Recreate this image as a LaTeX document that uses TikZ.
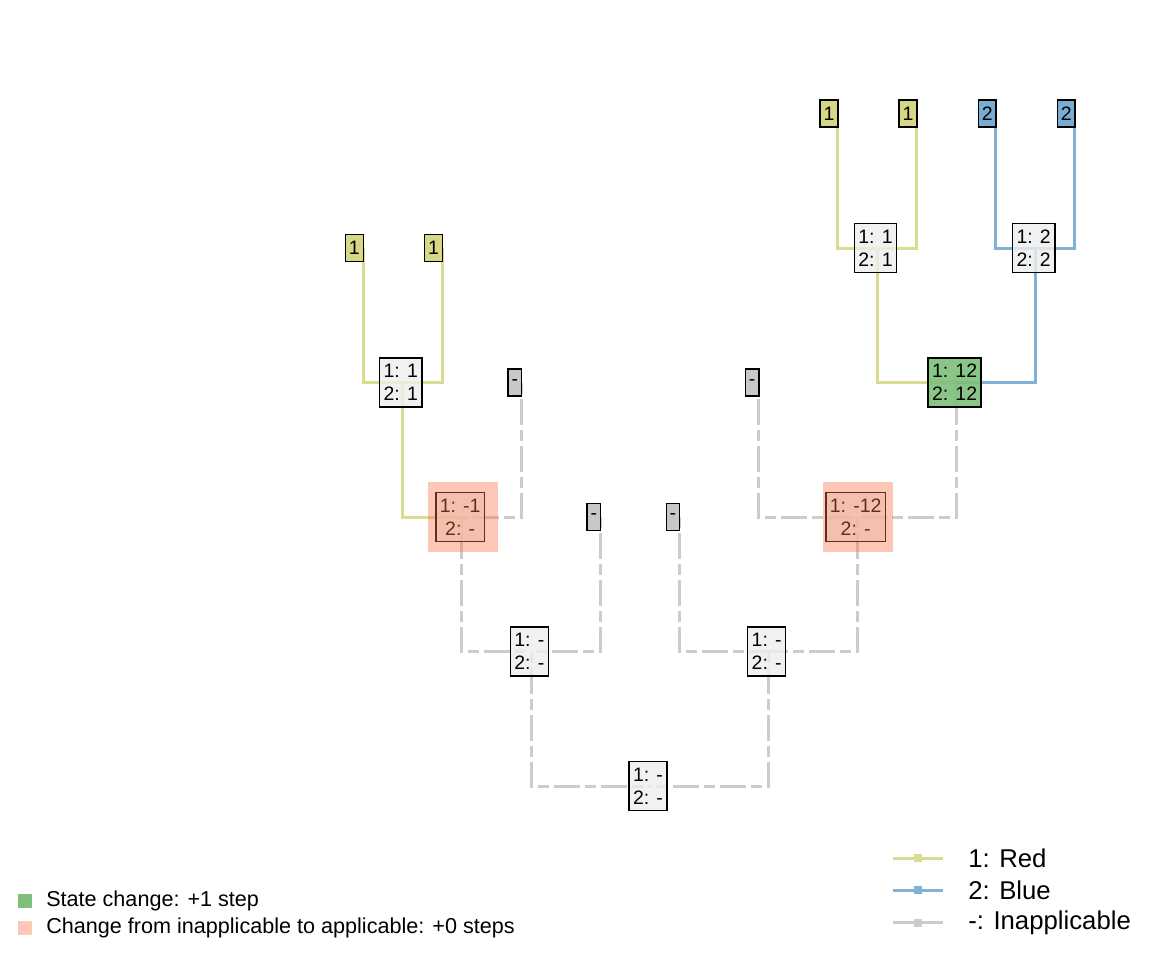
\documentclass[tikz,border=0pt]{standalone}
\usepackage{fontspec}
\setmainfont{Liberation Sans}
\definecolor{cyel}{RGB}{218,220,142}
\definecolor{cyelt}{RGB}{214,216,135}
\definecolor{cblue}{RGB}{127,178,213}
\definecolor{cbluet}{RGB}{120,172,210}
\definecolor{cgrey}{RGB}{204,204,204}
\definecolor{cgreyt}{RGB}{200,200,200}
\definecolor{cgreen}{RGB}{125,191,123}
\definecolor{cnode}{RGB}{238,238,238}
\definecolor{cred}{RGB}{247,117,70}
\definecolor{cpink}{RGB}{252,201,182}
\newcommand\lblfont{\fontsize{14.6}{17.25}\selectfont}
\newcommand\legfont{\fontsize{16.2}{19}\selectfont}
\newcommand\keyfont{\fontsize{19.3}{23}\selectfont}
\begin{document}
\begin{tikzpicture}[x=0.75pt,y=-0.75pt,
  edge/.style={line width=2.25pt, line cap=butt, line join=miter},
  yl/.style={edge, draw=cyel},
  bl/.style={edge, draw=cblue},
  na/.style={edge, draw=cgrey, dash pattern=on 8.25pt off 3.75pt on 19.5pt off 3.75pt},
  lab/.style={draw=black, line width=1.1pt, fill=cnode, fill opacity=0.8, text opacity=1,
    align=center, font=\lblfont, inner xsep=3pt, inner ysep=0pt, minimum height=36.75pt},
  tiplab/.style={draw=black, line width=1.1pt, font=\lblfont, inner xsep=2.6pt,
    inner ysep=0pt, minimum height=20.25pt, anchor=east},
  hl/.style={fill=cred, fill opacity=0.4, draw=none, inner sep=0pt, minimum size=52.5pt},
  legsq/.style={draw=none, inner sep=0pt, minimum size=10.5pt},
  keymark/.style={draw=none, inner sep=0pt, minimum size=6pt},
  legtext/.style={anchor=west, inner sep=0pt, font=\legfont},
  keytext/.style={anchor=west, inner sep=0pt, font=\keyfont}
]
\useasboundingbox (0,0) rectangle (1152,960);
% tree coordinates
\coordinate (t0) at (363,248);
\coordinate (t1) at (442.1,248);
\coordinate (t2) at (521.2,382.5);
\coordinate (t3) at (600.3,517);
\coordinate (t4) at (679.4,517);
\coordinate (t5) at (758.5,382.5);
\coordinate (t6) at (837.6,113.5);
\coordinate (t7) at (916.7,113.5);
\coordinate (t8) at (995.8,113.5);
\coordinate (t9) at (1074.9,113.5);
\coordinate (F) at (402.5,382.5);
\coordinate (G) at (461.9,517);
\coordinate (H) at (531.1,651.5);
\coordinate (A) at (877.2,248);
\coordinate (B) at (1035.4,248);
\coordinate (C) at (956.3,382.5);
\coordinate (D) at (857.4,517);
\coordinate (E) at (768.4,651.5);
\coordinate (R) at (649.7,786);
% edges
\draw[yl] (t0) |- (F);
\draw[yl] (t1) |- (F);
\draw[yl] (F) |- (G);
\draw[na] (t2) |- (G);
\draw[na] (G) |- (H);
\draw[na] (t3) |- (H);
\draw[na] (H) |- (R);
\draw[na] (E) |- (R);
\draw[na] (t4) |- (E);
\draw[na] (D) |- (E);
\draw[na] (t5) |- (D);
\draw[na] (C) |- (D);
\draw[yl] (A) |- (C);
\draw[bl] (B) |- (C);
\draw[yl] (t6) |- (A);
\draw[yl] (t7) |- (A);
\draw[bl] (t8) |- (B);
\draw[bl] (t9) |- (B);
% tip labels
\node[tiplab, fill=cyelt] (l0) at ([xshift=0.75pt]t0) {1};
\node[tiplab, fill=cyelt] (l1) at ([xshift=0.75pt]t1) {1};
\node[tiplab, fill=cgreyt] (l2) at ([xshift=0.75pt]t2) {-};
\node[tiplab, fill=cgreyt] (l3) at ([xshift=0.75pt]t3) {-};
\node[tiplab, fill=cgreyt] (l4) at ([xshift=0.75pt]t4) {-};
\node[tiplab, fill=cgreyt] (l5) at ([xshift=0.75pt]t5) {-};
\node[tiplab, fill=cyelt] (l6) at ([xshift=0.75pt]t6) {1};
\node[tiplab, fill=cyelt] (l7) at ([xshift=0.75pt]t7) {1};
\node[tiplab, fill=cbluet] (l8) at ([xshift=0.75pt]t8) {2};
\node[tiplab, fill=cbluet] (l9) at ([xshift=0.75pt]t9) {2};
% internal node labels
\node[lab] (lF) at ([xshift=-1.3pt]F) {1: 1\\2: 1};
\node[lab] (lG) at ([xshift=-1.3pt]G) {1: -1\\2: -};
\node[lab] (lH) at ([xshift=-1.3pt]H) {1: -\\2: -};
\node[lab] (lA) at ([xshift=-1.3pt]A) {1: 1\\2: 1};
\node[lab] (lB) at ([xshift=-1.3pt]B) {1: 2\\2: 2};
\node[lab, fill=cgreen, fill opacity=0.9] (lC) at ([xshift=-1.3pt]C) {1: 12\\2: 12};
\node[lab] (lD) at ([xshift=-1.3pt]D) {1: -12\\2: -};
\node[lab] (lE) at ([xshift=-1.3pt]E) {1: -\\2: -};
\node[lab] (lR) at ([xshift=-1.3pt]R) {1: -\\2: -};
% highlights
\node[hl] (hG) at ([xshift=0.5pt]G) {};
\node[hl] (hD) at ([xshift=0.5pt]D) {};
% legend left
\node[legsq, fill=cgreen] (sq1) at (25,901) {};
\node[legsq, fill=cpink] (sq2) at (25,927.5) {};
\node[legtext] (tx1) at (46,901) {State change: +1 step};
\node[legtext] (tx2) at (46,927.5) {Change from inapplicable to applicable: +0 steps};
% legend right
\coordinate (k1a) at (893,858); \coordinate (k1b) at (943,858);
\coordinate (k2a) at (893,890); \coordinate (k2b) at (943,890);
\coordinate (k3a) at (893,922.5); \coordinate (k3b) at (943,922.5);
\draw[yl] (k1a) -- (k1b);
\draw[bl] (k2a) -- (k2b);
\draw[edge, draw=cgrey] (k3a) -- (k3b);
\node[keymark, fill=cyel] (m1) at (918,858) {};
\node[keymark, fill=cblue] (m2) at (918,890) {};
\node[keymark, fill=cgrey] (m3) at (918,922.5) {};
\node[keytext] (kt1) at (968,858) {1: Red};
\node[keytext] (kt2) at (968,890) {2: Blue};
\node[keytext] (kt3) at (968,922.5) {-: Inapplicable};
\end{tikzpicture}
\end{document}
